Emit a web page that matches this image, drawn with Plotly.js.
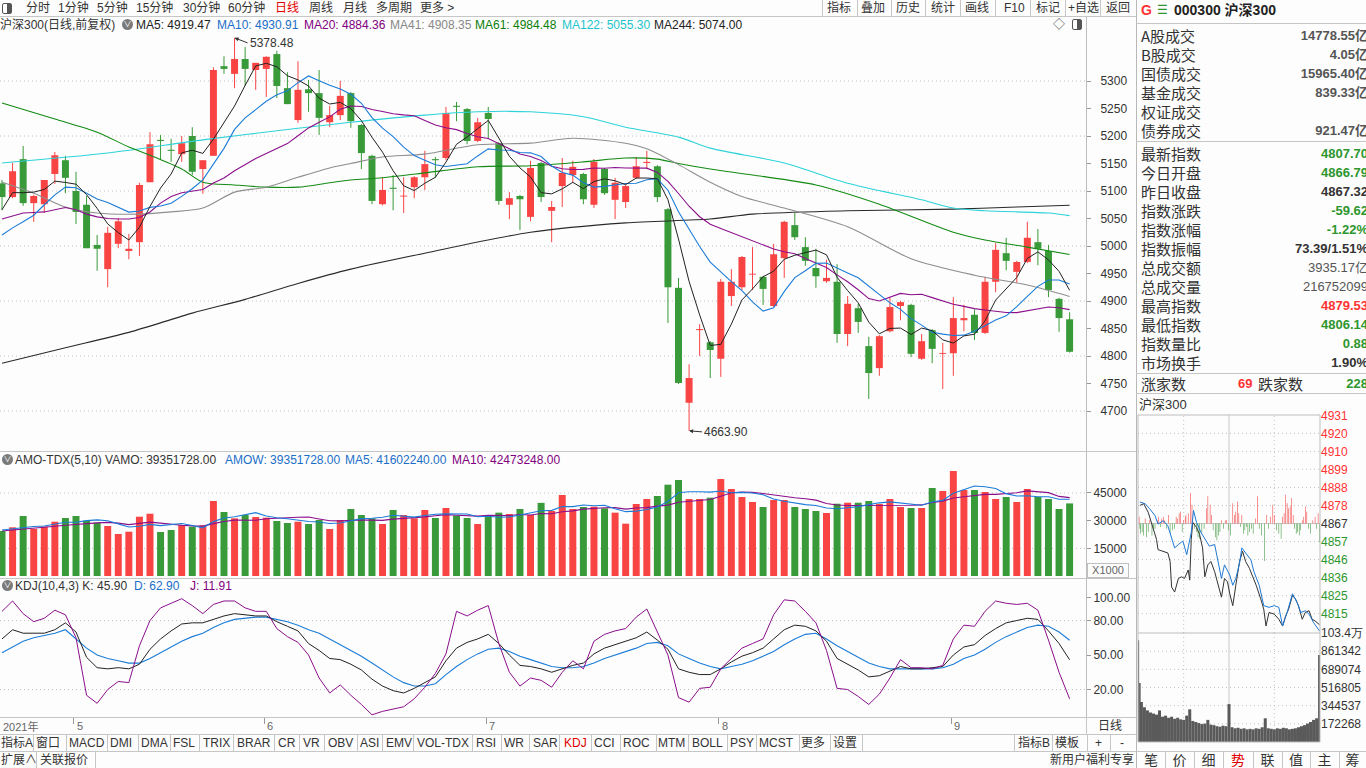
<!DOCTYPE html>
<html><head><meta charset="utf-8"><title>沪深300 日线</title>
<script src="https://cdn.plot.ly/plotly-3.0.1.min.js"></script>
<style>
html,body{margin:0;padding:0}
body{width:1366px;height:768px;overflow:hidden;position:relative;background:#fdfdfd;font-family:"Liberation Sans","Noto Sans CJK SC",sans-serif;color:#333}
.t{position:absolute;white-space:nowrap}
.hl{position:absolute;height:1px;background:#c6c6c6}
.vl{position:absolute;width:1px;background:#c6c6c6}
#main{position:absolute;left:0;top:17px;width:1136px;height:717px}
#mini{position:absolute;left:1136px;top:400px;width:230px;height:350px}
.ic{position:absolute;width:11px;height:11px;border-radius:50%;background:#7a7a7a;color:#fff;font-size:8px;line-height:11px;text-align:center}
</style></head><body>
<div id="main"></div><div id="mini"></div>
<div id="ui"></div>
<script>
// ===== daily candles (index 0 = late April 2021 ... 101 = mid Sep 2021) =====
const open = [5114,5089,5158,5078,5076,5131,5156,5100,5075,5002,
4958,5004,4991,5007,5116,5193,5175,5167,5200,5140,
5164,5327,5313,5340,5320,5322,5349,5287,5229,5285,
5278,5225,5238,5278,5220,5164,5076,5106,5090,5107,
5125,5158,5160,5255,5249,5191,5242,5187,5075,5091,
5053,5151,5064,5109,5129,5131,5075,5140,5084,5080,
5124,5151,5145,5067,4924,4715,4847,4825,4795,4909,
4925,4948,4944,4891,4978,5038,4998,4960,4936,4935,
4840,4887,4818,4778,4845,4891,4893,4795,4847,4804,
4805,4865,4875,4842,4935,4987,4953,4971,5007,4991,
4904,4866.79];
const high = [5120,5151,5182,5093,5120,5171,5164,5135,5091,5020,
5035,5051,5022,5115,5207,5202,5195,5200,5216,5156,
5325,5345,5378.48,5362,5333,5345,5355,5316,5336,5302,
5320,5255,5300,5280,5222,5166,5124,5129,5125,5127,
5173,5162,5253,5262,5251,5233,5253,5189,5098,5093,
5155,5153,5082,5160,5155,5133,5158,5142,5124,5111,
5162,5173,5147,5069,4942,4785,4858,4827,4940,4958,
4982,4998,4946,5004,5046,5060,5016,4995,4975,4967,
4909,4895,4835,4838,4907,4900,4895,4840,4849,4824,
4907,4893,4885,4944,5005,5015,4973,5044,5031,5002,
4906,4879.53];
const low = [5065,5087,5073,5044,5060,5113,5096,5040,4996,4955,
4925,4996,4976,4982,5116,5158,5153,5153,5129,5095,
5164,5313,5287,5291,5284,5271,5269,5258,5224,5244,
5202,5216,5229,5215,5140,5076,5074,5065,5060,5087,
5102,5124,5156,5227,5185,5189,5195,5075,5049,5029,
5045,5080,5007,5071,5116,5076,5069,5093,5049,5069,
5122,5140,5080,4860,4749,4663.9,4800,4760,4762,4891,
4920,4920,4893,4889,4942,5011,4964,4924,4933,4824,
4818,4842,4722,4764,4843,4865,4798,4793,4787,4740,
4764,4845,4829,4840,4916,4956,4933,4969,4965,4907,
4844,4806.14];
const close = [5089,5136,5078,5091,5120,5165,5124,5062,4996,4995,
5024,5045,4995,5111,5185,5191,5173,5187,5135,5156,
5320,5322,5340,5322,5333,5344,5291,5258,5284,5278,
5233,5238,5273,5227,5169,5082,5102,5104,5091,5125,
5149,5156,5242,5253,5191,5225,5231,5082,5087,5085,
5142,5089,5071,5133,5144,5085,5153,5096,5115,5109,
5145,5153,5089,4925,4751,4760,4849,4811,4935,4935,
4980,4949,4922,4985,5044,5016,4973,4945,4942,4840,
4895,4862,4769,4836,4889,4898,4804,4827,4813,4805,
4869,4869,4842,4935,4993,4973,4971,5015,4995,4920,
4869,4807.70];

// moving averages
const ma5 = [5066,5097,5097,5098,5102.8,5118,5115.6,5112.4,5093.4,5068.4,
5040.2,5024.4,5011,5034,5072,5105.4,5131,5169.4,5174.2,5168.4,
5194.2,5224,5254.6,5292,5327.4,5332.2,5326,5309.6,5302,5291,
5268.8,5258.2,5261.2,5249.8,5228,5197.8,5170.6,5136.8,5109.6,5100.8,
5114.2,5125,5152.6,5185,5198.2,5213.4,5228.4,5196.4,5163.2,5142,
5125.4,5097,5094.8,5104,5115.8,5104.4,5117.2,5122.2,5118.6,5111.6,
5123.6,5123.6,5122.2,5084.2,5012.6,4935.6,4874.8,4819.2,4821.2,4858,
4902,4922,4944.2,4954.2,4976,4983.2,4988,4992.6,4984,4943.2,
4919,4896.8,4861.6,4840.4,4850.2,4850.8,4839.2,4850.8,4846.2,4829.4,
4823.6,4836.6,4839.6,4864,4901.6,4922.4,4942.8,4977.4,4989.4,4974.8,
4954,4919.47];
const ma10 = [5020,5033,5044,5056,5075,5093,5107,5106,5096,5085.6,
5079.1,5070,5061.7,5063.7,5070.2,5072.8,5077.7,5090.2,5104.1,5120.2,
5149.8,5177.5,5212,5233.1,5247.9,5263.2,5275,5282.1,5297,5309.2,
5300.5,5292.1,5285.4,5275.9,5259.5,5233.3,5214.4,5199,5179.7,5164.4,
5156,5147.8,5144.7,5147.3,5149.5,5163.8,5176.7,5174.5,5174.1,5170.1,
5169.4,5162.7,5145.6,5133.6,5128.9,5114.9,5107.1,5108.5,5111.3,5113.7,
5114,5120.4,5122.2,5101.4,5062.1,5029.6,4999.2,4970.7,4952.7,4935.3,
4918.8,4898.4,4881.7,4887.7,4917,4942.6,4955,4968.4,4969.1,4959.6,
4951.1,4942.4,4927.1,4912.2,4896.7,4884.9,4868,4856.2,4843.3,4839.8,
4837.2,4837.9,4845.2,4855.1,4865.5,4873,4889.7,4908.5,4926.7,4938.2,
4938.2,4930.91];
const ma20 = [5049,5055,5060,5061,5062,5066,5070,5066,5058,5053,
5050,5049,5049,5052,5062,5078,5090,5097,5100,5102.9,
5114.5,5123.8,5136.9,5148.4,5159.1,5168,5176.4,5186.2,5200.6,5214.7,
5225.2,5234.8,5248.7,5254.5,5253.7,5248.3,5244.7,5240.6,5238.4,5236.8,
5228.3,5220,5215.1,5211.6,5204.5,5198.6,5195.6,5186.8,5176.9,5167.3,
5162.7,5155.3,5145.2,5140.5,5139.2,5139.4,5141.9,5141.5,5142.7,5141.9,
5141.7,5141.6,5133.9,5117.5,5095.5,5072.3,5053.2,5039.6,5032,5024.5,
5016.4,5009.4,5002,4994.6,4989.6,4986.1,4977.1,4969.6,4960.9,4947.5,
4935,4920.4,4904.4,4900,4906.9,4913.8,4911.5,4912.3,4906.2,4899.7,
4894.2,4890.2,4886.2,4883.7,4881.1,4879,4878.9,4882.4,4885,4889,
4887.7,4884.36];
const ma41X = [0,3,6,9,13,16,19,22,25,28,31,33,36,40,45,50,54,59,61,64,67,70,74,80,86,92,97,101];
const ma41 = [5116,5096,5071,5060,5058,5062,5069,5098,5107,5125,5142,5150,5162,5167,5184,5187,5196,5187,5177,5148,5116,5090,5069,5035,4977,4947,4929,4908.35];
const ma61X = [0,5,9,12,14,17,19,22,25,28,31,33,36,40,45,50,55,59,62,64,67,71,77,83,90,93,97,101];
const ma61 = [5260,5231,5207,5180,5165,5140,5116,5111,5107,5107,5115,5120,5124,5133,5144,5146,5153,5160,5158,5150,5140,5129,5111,5076,5025,5011,4998,4984.48];
const ma122X = [0,10,19,28,33,40,45,50,55,59,64,67,74,80,87,90,93,99,101];
const ma122 = [5151,5169,5193,5214,5225,5238,5244,5244,5235,5216,5198,5178,5151,5114,5084,5069,5064,5060,5055.3];
const ma244X = [0,6,12,18,23,28,33,40,50,59,67,71,80,90,96,101];
const ma244 = [4787,4815,4843,4878,4903,4932,4958,4987,5025,5042,5049,5058,5064,5067,5071,5074];

// turnover (AMO, x1000)
const amo = [24390,26400,32520,25470,26720,29430,31440,32520,29970,28890,
27100,22760,24010,32140,33770,23850,24930,27640,26720,27460,
40650,34690,31270,33060,31980,31620,29810,28730,29430,28180,
30350,25470,30350,36310,33060,31270,28180,35770,33060,31270,
35770,31440,36860,32700,31440,28180,32700,34330,33600,36310,
33060,39650,35230,43900,36310,37400,37580,36680,34330,28370,
39020,41730,43360,49500,52030,41730,41730,42460,52570,47150,
42820,40110,37400,41190,41190,37400,36310,35230,34150,39190,
39730,39730,40650,39020,41730,37400,36860,36860,47700,46070,
56910,46610,46610,45530,41730,42820,40110,47150,42820,41730,
36310,39352];
const amoMa5 = [24900,25500,26500,26800,27100,28108,29116,29116,30016,30450,
29984,28248,26546,26980,27956,27306,27740,28466,27382,26120,
29480,31432,32158,33426,34330,32524,31548,31040,30314,29554,
29300,28432,28756,30132,31108,31292,31834,32918,32268,31910,
32810,33462,33680,33608,33642,32124,32376,31870,32050,33024,
34000,35390,35570,37630,37630,38498,38084,38374,36460,34872,
35196,36026,37362,40396,45128,45670,45670,45490,46104,45128,
45346,45022,44010,41734,40542,39458,38698,38264,36856,36456,
36922,37606,38690,39664,40172,39706,39132,38374,40110,40978,
44880,46830,48780,48346,47478,44660,43360,43468,42926,42926,
41624,41602];
const amoMa10 = [24400,25000,25500,26000,26500,27000,27500,28000,28400,28775,
29046,28682,27831,28498,29203,28645,27994,27506,27181,27038,
28393,29586,30312,30404,30225,31002,31490,31599,31870,31942,
30912,29990,29898,30223,30331,30296,30133,30837,31200,31509,
32051,32648,33299,32938,32776,32467,32919,32775,32829,33333,
33062,33883,33720,34840,35327,36249,36737,36972,37045,36251,
36847,37055,37868,38428,40000,40433,40848,41426,43250,45128,
45508,45346,44750,43919,42835,42402,41860,41137,39295,38499,
38190,38152,38477,38260,38314,38314,38369,38532,39887,40575,
42293,42981,43577,44228,44228,44770,45095,46124,45636,45202,
43142,42473];

// KDJ(10,4,3)
const kLine = [64,72,69,69,69,72,78,70,48,39,38,39,38,42,55,64,71,77,78,78,
81,84,86,85,84,84,79,75,71,60,54,47,46,42,37,29,23,19,17,21,
26,31,45,56,61,64,68,60,50,41,40,38,35,38,41,43,51,56,59,62,
65,70,63,55,38,35,33,33,38,44,49,52,56,64,72,76,75,71,62,47,
42,37,31,32,36,40,38,38,39,40,50,57,59,67,73,78,80,82,81,71,
60,45.90];
const dLine = [52,57,62,65,67,69,72,64,56,50,47,45,43,43,47,52,57,62,66,69,
74,78,81,82,83,83,81,79,76,72,69,64,59,54,49,43,37,31,26,23,
23,25,33,40,46,51,55,56,53,49,46,43,40,39,39,40,43,47,50,53,
56,60,61,58,51,47,43,40,38,40,42,45,49,53,59,64,68,69,64,58,
53,48,43,40,38,38,38,38,38,39,42,47,50,55,61,66,70,74,76,75,
70,62.90];
const jLine = [88,97,86,79,82,89,85,65,15,8,20,27,26,58,80,91,95,99,93,86,
94,97,97,91,88,88,73,66,61,50,30,17,24,15,7,-2,1,3,5,12,
22,34,51,88,84,89,93,60,35,23,30,28,22,35,45,38,62,68,71,73,
83,90,70,50,13,9,21,22,38,47,56,60,64,85,98,97,88,78,54,21,
20,14,7,16,30,46,39,39,38,41,64,76,75,88,97,95,94,95,89,63,
35,11.91];

// axis ticks / labels
const priceTicks = [4700,4750,4800,4850,4900,4950,5000,5050,5100,5150,5200,5250,5300];
const priceGrid = [4700,4800,4900,5000,5100,5200,5300];
const amoTicks = [15000,30000,45000];
const amoGrid = [15000,45000];
const kdjTicks = [20,50,80,100];
const kdjGrid = [20,80];
const monthIdx = [7,25,46,68,90];
const monthLbl = ['5','6','7','8','9'];

// intraday (right panel)
const brMin = [1,2,3,5,7,9,11,13,15,18,20,22,25,27,29,31,33,35,37,40,42,45,48,50,52,54,56,58,60,62,63,66,69,71,74,77,79,81,84,87,90,92,95,97,99,102,104,106,108,110,113,115,117,119,122,125,127,129,131,133,135,137,139,141,143,145,147,150,152,155,158,160,163,167,170,172,175,178,180,183,186,189,191,193,195,197,199,201,203,205,207,209,211,213,215,217,219,221,223,225,228,231,234,236,238,240];
const brVal = [4,-3,-6,-5,-7,3,-8,-5,2,-7,-4,-3,2,4,-2,3,4,2,-3,5,-6,-4,-3,4,3,6,7,-5,2,4,5,6,18,11,-3,-5,-8,-9,-6,-3,9,16,11,5,-4,-8,-10,-7,-5,2,-3,2,2,-4,-7,12,5,7,13,6,-2,5,-6,-4,-2,-7,-5,-3,-6,3,16,-3,-7,-22,5,-3,4,11,5,-4,-6,-9,4,6,17,12,9,10,15,5,-3,-6,-5,-7,-4,2,4,10,7,-3,-6,2,4,-3,6,-11];
const pxMin = [2,7,13,20,24,26,33,39,42,44,48,53,57,61,66,68,70,72,77,81,85,88,92,96,101,105,110,114,118,121,125,129,134,138,142,147,151,156,162,166,169,173,180,186,191,195,199,204,208,212,217,221,226,230,234,240];
const pxVal = [4878,4879,4874,4864,4858,4852,4851,4850,4845,4830,4827,4835,4836,4835,4840,4834,4858,4868,4865,4861,4853,4836,4843,4845,4839,4833,4824,4835,4833,4826,4819,4831,4845,4851,4845,4841,4837,4831,4823,4817,4807,4815,4814,4811,4807,4813,4817,4825,4823,4819,4811,4815,4816,4811,4810,4807.7];
const avgMin = [2,9,15,22,26,33,39,44,48,53,59,64,70,73,77,83,90,94,101,105,110,114,121,125,129,134,137,142,149,153,160,166,173,180,186,191,197,204,210,215,221,226,232,240];
const avgVal = [4880,4879,4876,4872,4867,4869,4866,4858,4853,4855,4857,4849,4862,4875,4868,4862,4857,4854,4855,4847,4835,4843,4837,4831,4835,4844,4853,4850,4846,4839,4831,4819,4818,4819,4818,4807,4815,4826,4821,4815,4816,4814,4809,4804];
const mvMin = [0,2,4,8,12,16,20,24,28,32,36,40,44,48,52,56,60,64,68,72,76,80,84,88,92,96,100,104,108,112,116,120,124,128,132,136,140,144,148,152,156,160,164,168,172,176,180,184,188,192,196,200,204,208,212,216,220,224,228,232,236,240];
const mvVal = [967000,560000,380000,330000,300000,280000,270000,260000,300000,240000,250000,230000,240000,220000,230000,215000,210000,250000,310000,200000,190000,180000,170000,175000,210000,165000,160000,150000,145000,155000,150000,360000,140000,130000,135000,125000,130000,120000,125000,120000,130000,125000,140000,225000,130000,125000,120000,130000,125000,135000,130000,120000,125000,130000,140000,150000,160000,175000,190000,210000,225000,825000];
const prevClose = 4867.32;
const miniPriceTicks = [4931.0,4920.4,4909.8,4899.2,4888.5,4877.9,4867.3,4856.7,4846.1,4835.5,4824.9,4814.3];
const miniPriceLbl = ['4931','4920','4910','4899','4888','4878','4867','4857','4846','4836','4825','4815'];
const miniVolTicks = [172268,344537,516805,689074,861342,1034000];
const miniVolLbl = ['172268','344537','516805','689074','861342','103.4万'];
const miniVLines = [60,120,180];

// info panel
const infoTop = [['A股成交','14778.55亿'],['B股成交','4.05亿'],['国债成交','15965.40亿'],['基金成交','839.33亿'],['权证成交',''],['债券成交','921.47亿']];
const infoMid = [['最新指数','4807.70','g'],['今日开盘','4866.79','g'],['昨日收盘','4867.32','k'],['指数涨跌','-59.62','g'],['指数涨幅','-1.22%','g'],['指数振幅','73.39/1.51%','k'],['总成交额','3935.17亿','n'],['总成交量','216752099','n'],['最高指数','4879.53','r'],['最低指数','4806.14','g'],['指数量比','0.88','g'],['市场换手','1.90%','k']];

// ===== drawing =====
const RED = '#f94444', GRN = '#389a38';
const N = close.length;
const idx = close.map((_, i) => i);
const isUp = close.map((c, i) => c >= open[i]);
const cCol = isUp.map(u => u ? RED : GRN);
const bodyBase = close.map((c, i) => Math.min(c, open[i]));
const bodyH = close.map((c, i) => Math.max(Math.abs(c - open[i]), 1.6));
function wick(upFlag) {
  const xs = [], ys = [];
  for (let i = 0; i < N; i++) { if (isUp[i] !== upFlag) continue; xs.push(i, i, null); ys.push(low[i], high[i], null); }
  return {x: xs, y: ys};
}
const wu = wick(true), wd = wick(false);
function line(x, y, color, ya, w, smooth) {
  return {type:'scatter', mode:'lines', x:x, y:y, xaxis:'x', yaxis:ya,
    line:{color:color, width:w||1, shape: smooth ? 'spline' : 'linear', smoothing: smooth ? 0.8 : undefined}, hoverinfo:'skip'};
}

const traces = [
  {type:'scatter', mode:'lines', x:wu.x, y:wu.y, line:{color:RED,width:1}, connectgaps:false, hoverinfo:'skip'},
  {type:'scatter', mode:'lines', x:wd.x, y:wd.y, line:{color:GRN,width:1}, connectgaps:false, hoverinfo:'skip'},
  {type:'bar', x:idx, y:bodyH, base:bodyBase, width:0.66, marker:{color:cCol, line:{width:0}}, hoverinfo:'skip'},
  line(ma244X, ma244, '#2a2a2a', 'y', 1.1, true),
  line(ma122X, ma122, '#2dd3d9', 'y', 1.1, true),
  line(ma61X, ma61, '#138a13', 'y', 1.1, true),
  line(ma41X, ma41, '#8e8e8e', 'y', 1.1, true),
  line(idx, ma20, '#8b0f8b', 'y', 1.1),
  line(idx, ma10, '#1b7cd8', 'y', 1.1),
  line(idx, ma5, '#222222', 'y', 1),
  {type:'bar', x:idx, y:amo, xaxis:'x', yaxis:'y2', width:0.66, marker:{color:cCol, line:{width:0}}, hoverinfo:'skip'},
  line(idx, amoMa10, '#8b0f8b', 'y2', 1.1),
  line(idx, amoMa5, '#1b7cd8', 'y2', 1.1),
  line(idx, dLine, '#1b7cd8', 'y3', 1.1),
  line(idx, kLine, '#222222', 'y3', 1),
  line(idx, jLine, '#8b0f8b', 'y3', 1)
];

const DOT = {color:'#c2c2c2', width:1, dash:'1px,3px'};
const shapes = [];
priceGrid.forEach(v => shapes.push({type:'line', xref:'paper', yref:'y', x0:0, x1:1, y0:v, y1:v, layer:'below', line:DOT}));
amoGrid.forEach(v => shapes.push({type:'line', xref:'paper', yref:'y2', x0:0, x1:1, y0:v, y1:v, layer:'below', line:DOT}));
kdjGrid.forEach(v => shapes.push({type:'line', xref:'paper', yref:'y3', x0:0, x1:1, y0:v, y1:v, layer:'below', line:DOT}));

const TF = {family:'Liberation Sans, Noto Sans CJK SC, sans-serif', size:12, color:'#333'};
const annotations = [
  {x:22, y:high[22], xref:'x', yref:'y', text:'5378.48', showarrow:true, arrowhead:2, arrowsize:0.8, arrowwidth:1, arrowcolor:'#333', ax:13, ay:5, xanchor:'left', yanchor:'middle', font:{...TF, size:12}, standoff:0},
  {x:65, y:low[65], xref:'x', yref:'y', text:'4663.90', showarrow:true, arrowhead:2, arrowsize:0.8, arrowwidth:1, arrowcolor:'#333', ax:13, ay:1, xanchor:'left', yanchor:'middle', font:{...TF, size:12}, standoff:0},
  {x:0, y:0, xref:'paper', yref:'paper', text:'2021年', showarrow:false, xanchor:'left', yanchor:'top', xshift:1, yshift:-1, font:{...TF, size:11, color:'#666'}}
];
monthIdx.forEach((m, k) => annotations.push({x:m - 0.2, y:0, xref:'x', yref:'paper', text:monthLbl[k], showarrow:false, xanchor:'left', yanchor:'top', xshift:1, yshift:-1, font:{...TF, size:11, color:'#666'}}));

function yax(dom, rng, tv, tt, standoff) {
  return {domain:dom, range:rng, side:'right', tickvals:tv, ticktext:tt, ticks:'outside', ticklen:4, tickcolor:'#999',
    ticklabelstandoff:standoff, showgrid:false, zeroline:false, showline:true, linecolor:'#bdbdbd', tickfont:TF, fixedrange:true};
}
const layout = {
  width:1136, height:717, margin:{l:0, r:50, t:0, b:17, pad:0},
  paper_bgcolor:'rgba(0,0,0,0)', plot_bgcolor:'rgba(0,0,0,0)', showlegend:false, barmode:'overlay',
  font:TF,
  xaxis:{range:[-0.19, 102.55], anchor:'y3', showgrid:false, zeroline:false, showline:false,
    tickvals:monthIdx.map(m => m - 0.2), ticks:'outside', ticklen:6, tickcolor:'#999', showticklabels:false, fixedrange:true},
  yaxis: yax([0.38, 1], [4627.3, 5416.4], priceTicks, priceTicks.map(String), 7),
  yaxis2: yax([0.19857, 0.38], [-1084, 67763], amoTicks, amoTicks.map(String), 0),
  yaxis3: yax([0, 0.19857], [-3.9, 117], kdjTicks, kdjTicks.map(v => v.toFixed(2)), 0),
  shapes:shapes, annotations:annotations
};
Plotly.newPlot('main', traces, layout, {staticPlot:true, displayModeBar:false});

// ---- intraday mini chart ----
const mTraces = [
  {type:'bar', x:brMin, y:brVal, base:prevClose, width:0.75, marker:{color:brVal.map(v => v >= 0 ? '#f24040' : '#3a963a'), line:{width:0}}, hoverinfo:'skip'},
  {type:'scatter', mode:'lines', x:pxMin, y:pxVal, line:{color:'#333', width:1}, hoverinfo:'skip'},
  {type:'scatter', mode:'lines', x:avgMin, y:avgVal, line:{color:'#1f7ad6', width:1}, hoverinfo:'skip'},
  {type:'bar', x:mvMin, y:mvVal, xaxis:'x', yaxis:'y2', width:mvMin.map((m, k) => k < 2 ? 2 : 4), marker:{color:'#5a5a5a', line:{width:0}}, hoverinfo:'skip'}
];
const mShapes = [
  {type:'rect', xref:'paper', yref:'paper', x0:0, x1:1, y0:0, y1:1, line:{color:'#bdbdbd', width:1}},
  {type:'line', xref:'paper', yref:'paper', x0:0, x1:1, y0:0.3333, y1:0.3333, line:{color:'#bdbdbd', width:1}},
  {type:'line', xref:'paper', yref:'y', x0:0, x1:1, y0:prevClose, y1:prevClose, layer:'below', line:{color:'#c8c8c8', width:1}}
];
miniPriceTicks.forEach((v, k) => { if (k > 0 && miniPriceLbl[k] !== '4867') mShapes.push({type:'line', xref:'paper', yref:'y', x0:0, x1:1, y0:v, y1:v, layer:'below', line:DOT}); });
miniVolTicks.forEach((v, k) => { if (k < miniVolTicks.length - 1) mShapes.push({type:'line', xref:'paper', yref:'y2', x0:0, x1:1, y0:v, y1:v, layer:'below', line:DOT}); });
miniVLines.forEach(m => mShapes.push({type:'line', xref:'x', yref:'paper', x0:m, x1:m, y0:0.3333, y1:1, layer:'below', line: m === 120 ? {color:'#c8c8c8', width:1} : DOT}));
miniVLines.forEach(m => mShapes.push({type:'line', xref:'x', yref:'paper', x0:m, x1:m, y0:0, y1:0.3333, layer:'below', line: m === 120 ? {color:'#c8c8c8', width:1} : DOT}));
const MF = {family:'Liberation Sans, sans-serif', size:12, color:'#333'};
const mLayout = {
  width:230, height:350, margin:{l:2, r:46, t:15, b:8, pad:0},
  paper_bgcolor:'rgba(0,0,0,0)', plot_bgcolor:'rgba(0,0,0,0)', showlegend:false, barmode:'overlay', font:MF,
  xaxis:{range:[-0.5, 240.5], anchor:'y2', showgrid:false, zeroline:false, showline:false, showticklabels:false, ticks:'', fixedrange:true},
  yaxis:{domain:[0.3333, 1], range:[4802.9, 4931.2], side:'right', tickvals:miniPriceTicks,
    ticktext:miniPriceLbl.map(s => { const v = +s; const c = v > 4868 ? '#f33' : (v < 4866 ? '#2e962e' : '#333'); return '<span style="color:' + c + '">' + s + '</span>'; }),
    ticks:'', showgrid:false, zeroline:false, showline:false, tickfont:MF, fixedrange:true},
  yaxis2:{domain:[0, 0.3333], range:[0, 1034600], side:'right', tickvals:miniVolTicks, ticktext:miniVolLbl, ticks:'', showgrid:false, zeroline:false, showline:false, tickfont:MF, fixedrange:true},
  shapes:mShapes
};
Plotly.newPlot('mini', mTraces, mLayout, {staticPlot:true, displayModeBar:false});

// ---- interface text ----
const ui = document.getElementById('ui');
function T(x, yc, s, o) {
  o = o || {};
  const d = document.createElement('div');
  d.className = 't'; d.textContent = s;
  const fs = o.fs || 12, lh = fs + 4;
  d.style.fontSize = fs + 'px'; d.style.lineHeight = lh + 'px'; d.style.top = (yc - lh / 2) + 'px';
  if (o.right) d.style.right = (1366 - x) + 'px'; else d.style.left = x + 'px';
  if (o.c) d.style.color = o.c;
  if (o.b) d.style.fontWeight = 'bold';
  if (o.ff) d.style.fontFamily = o.ff;
  ui.appendChild(d); return d;
}
function HL(x, y, w, c) { const d = document.createElement('div'); d.className = 'hl'; d.style.left = x + 'px'; d.style.top = y + 'px'; d.style.width = w + 'px'; if (c) d.style.background = c; ui.appendChild(d); }
function VL(x, y, h, c) { const d = document.createElement('div'); d.className = 'vl'; d.style.left = x + 'px'; d.style.top = y + 'px'; d.style.height = h + 'px'; if (c) d.style.background = c; ui.appendChild(d); }
function IC(x, y) { const d = document.createElement('div'); d.className = 'ic'; d.style.left = x + 'px'; d.style.top = y + 'px'; d.textContent = '∨'; ui.appendChild(d); }

// frame lines
VL(1136, 0, 768, '#b8b8b8');
HL(0, 16, 1136); HL(1136, 23, 230);
HL(0, 451, 1136); HL(0, 578, 1136);
HL(0, 717, 1136); HL(0, 734, 1136); HL(0, 751, 1366);
HL(1136, 141, 230); HL(1136, 373, 230); HL(1136, 393, 230);
VL(1086, 717, 17);

// top toolbar
const ib = document.createElement('div'); ib.style.cssText = 'position:absolute;left:2px;top:3px;width:8px;height:9px;border:1px solid #555;border-radius:2px;background:linear-gradient(90deg,#fff 50%,#555 50%)'; ui.appendChild(ib);
[['分时',26],['1分钟',58],['5分钟',97],['15分钟',136],['30分钟',183],['60分钟',228],['日线',275,'#e00000'],['周线',309],['月线',343],['多周期',376],['更多 >',420]].forEach(a => T(a[1], 8, a[0], {c:a[2] || '#333'}));
[['指标',827],['叠加',861],['历史',896],['统计',931],['画线',965],['F10',1004],['标记',1036],['+自选',1068],['返回',1106]].forEach(a => T(a[1], 8, a[0]));
[822,857,891,925,960,995,1030,1065,1100].forEach(x => VL(x, 0, 16));
T(1141, 10, 'G', {c:'#f33', fs:14, b:true});
T(1157, 10, '☰', {c:'#2e962e', fs:12});
T(1174, 10, '000300 沪深300', {fs:14, b:true, c:'#222'});

// price header
T(0, 25, '沪深300(日线,前复权)');
IC(122, 19);
T(136, 25, 'MA5: 4919.47', {c:'#222'});
T(217, 25, 'MA10: 4930.91', {c:'#1b6fc8'});
T(304, 25, 'MA20: 4884.36', {c:'#800080'});
T(390, 25, 'MA41: 4908.35', {c:'#888'});
T(475, 25, 'MA61: 4984.48', {c:'#0a7d0a'});
T(562, 25, 'MA122: 5055.30', {c:'#22c4cc'});
T(654, 25, 'MA244: 5074.00', {c:'#222'});
T(1053, 25, '◇', {c:'#555', fs:12});
const ib2 = document.createElement('div'); ib2.style.cssText = 'position:absolute;left:1072px;top:19px;width:8px;height:9px;border:1px solid #555;border-radius:2px;background:linear-gradient(90deg,#fff 50%,#555 50%)'; ui.appendChild(ib2);

// volume header
IC(2, 454);
T(15, 460, 'AMO-TDX(5,10) VAMO: 39351728.00', {c:'#333'});
T(225, 460, 'AMOW: 39351728.00', {c:'#1b6fc8'});
T(345, 460, 'MA5: 41602240.00', {c:'#1b6fc8'});
T(452, 460, 'MA10: 42473248.00', {c:'#800080'});
const xb = document.createElement('div'); xb.style.cssText = 'position:absolute;left:1087px;top:563px;width:40px;height:13px;border:1px solid #c0c0c0;font-size:11px;line-height:13px;color:#666;text-align:center;background:#fdfdfd'; xb.textContent = 'X1000'; ui.appendChild(xb);

// KDJ header
IC(2, 580);
T(15, 586, 'KDJ(10,4,3) K: 45.90', {c:'#333'});
T(134, 586, 'D: 62.90', {c:'#1b6fc8'});
T(190, 586, 'J: 11.91', {c:'#800080'});

// date row right box
T(1098, 726, '日线', {c:'#333'});

// bottom toolbar
[['指标A',1],['窗口',36],['MACD',69],['DMI',110],['DMA',141],['FSL',173],['TRIX',203],['BRAR',237],['CR',278],['VR',303],['OBV',328],['ASI',360],['EMV',386],['VOL-TDX',417],['RSI',476],['WR',504],['SAR',533],['KDJ',564,'#e00000'],['CCI',594],['ROC',623],['MTM',658],['BOLL',692],['PSY',730],['MCST',759],['更多',801],['设置',833],['指标B',1018],['模板',1055],['+',1095],['-',1120]].forEach(a => T(a[1], 743, a[0], {c:a[2] || '#333'}));
[33,66,107,138,170,199,233,274,299,324,357,382,413,472,501,529,559,591,620,656,688,727,756,799,830,862,1014,1052,1087,1110].forEach(x => VL(x, 735, 16));
T(1, 760, '扩展∧'); VL(36, 752, 16); T(40, 760, '关联报价'); VL(95, 752, 16);
T(1050, 760, '新用户福利专享');
const tabs = ['笔','价','细','势','联','值','主','筹'];
const tabX = [1137,1165,1194,1223,1253,1282,1310,1339,1366];
tabs.forEach((s, k) => { const d = T(tabX[k], 760, s, {fs:14, c: s === '势' ? '#e00000' : '#333'}); d.style.width = (tabX[k + 1] - tabX[k]) + 'px'; d.style.textAlign = 'center'; if (k > 0) VL(tabX[k], 752, 16); });

// info panel
infoTop.forEach((r, k) => { const y = 35 + k * 19; T(1141, y, r[0], {fs:15, ff:'Noto Sans CJK SC'}); if (r[1]) T(1368, y, r[1], {right:true, fs:13, b:true, c:'#555'}); });
const colMap = {g:'#2e962e', r:'#f33', k:'#333', n:'#555'};
infoMid.forEach((r, k) => { const y = 153 + k * 19; T(1141, y, r[0], {fs:15, ff:'Noto Sans CJK SC'}); T(1368, y, r[1], {right:true, fs:13, b: r[2] !== 'n', c:colMap[r[2]]}); });
T(1141, 383, '涨家数', {fs:15, ff:'Noto Sans CJK SC'});
T(1238, 383, '69', {fs:13, b:true, c:'#f33'});
T(1258, 383, '跌家数', {fs:15, ff:'Noto Sans CJK SC'});
T(1368, 383, '228', {right:true, fs:13, b:true, c:'#2e962e'});
T(1139, 404, '沪深300', {fs:13});
</script></body></html>
